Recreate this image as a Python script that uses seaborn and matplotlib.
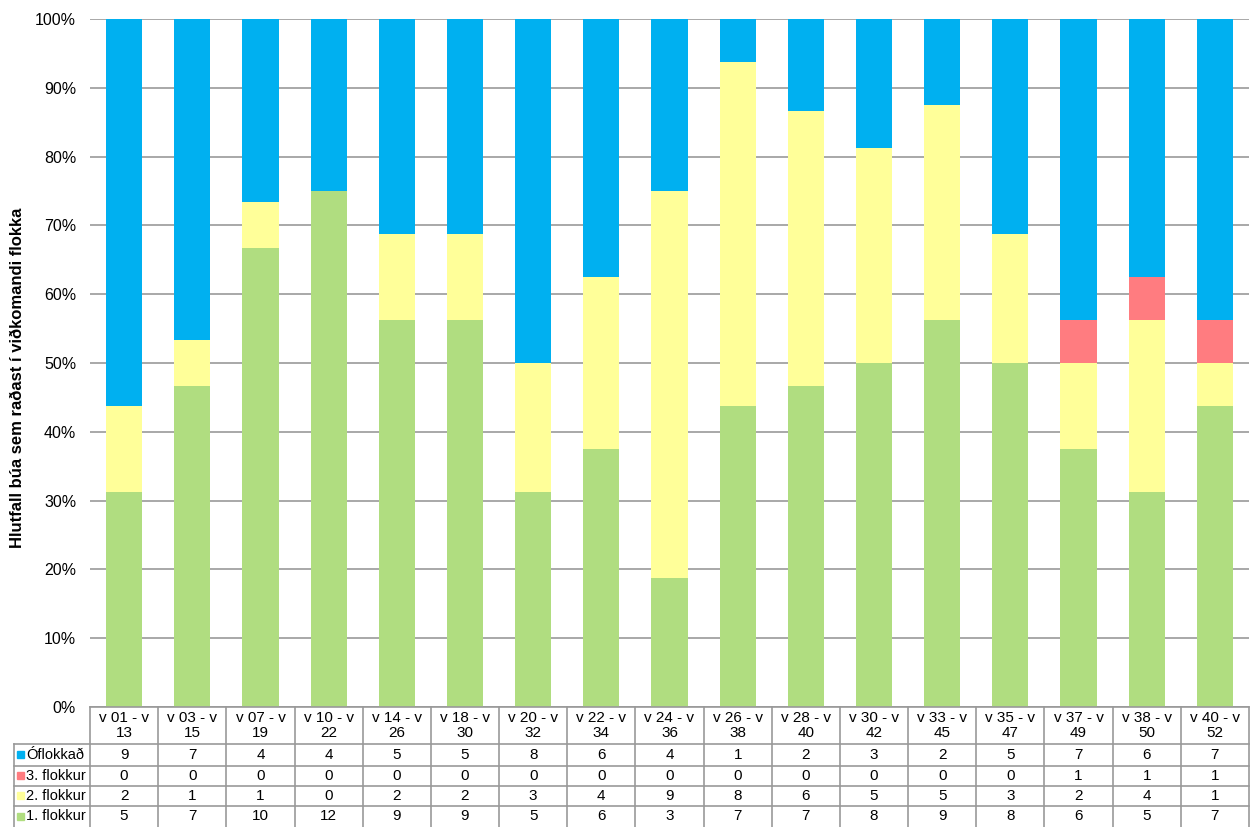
import numpy as np
import pandas as pd
import matplotlib
matplotlib.use("Agg")
import matplotlib.pyplot as plt
import seaborn as sb
from matplotlib.ticker import PercentFormatter

# Week ranges (table header) and counts per class
periods = ["v 01 - v\n13", "v 03 - v\n15", "v 07 - v\n19", "v 10 - v\n22", "v 14 - v\n26",
           "v 18 - v\n30", "v 20 - v\n32", "v 22 - v\n34", "v 24 - v\n36", "v 26 - v\n38",
           "v 28 - v\n40", "v 30 - v\n42", "v 33 - v\n45", "v 35 - v\n47", "v 37 - v\n49",
           "v 38 - v\n50", "v 40 - v\n52"]
oflokkad = [9, 7, 4, 4, 5, 5, 8, 6, 4, 1, 2, 3, 2, 5, 7, 6, 7]
flokkur3 = [0, 0, 0, 0, 0, 0, 0, 0, 0, 0, 0, 0, 0, 0, 1, 1, 1]
flokkur2 = [2, 1, 1, 0, 2, 2, 3, 4, 9, 8, 6, 5, 5, 3, 2, 4, 1]
flokkur1 = [5, 7, 10, 12, 9, 9, 5, 6, 3, 7, 7, 8, 9, 8, 6, 5, 7]

series_names = ["Óflokkað", "3. flokkur", "2. flokkur", "1. flokkur"]
colors = ["#00B0F0", "#FF7C80", "#FFFF99", "#B0DD80"]

W, H = 1250, 827
plt.rcParams['font.family'] = ['Liberation Sans', 'DejaVu Sans']

# Stacked shares: draw cumulative totals from the top layer down
df = pd.DataFrame({"period": periods, "Óflokkað": oflokkad, "3. flokkur": flokkur3,
                   "2. flokkur": flokkur2, "1. flokkur": flokkur1})
total = df[series_names].sum(axis=1)
cum = {
    "Óflokkað": (df["1. flokkur"] + df["2. flokkur"] + df["3. flokkur"] + df["Óflokkað"]) / total,
    "3. flokkur": (df["1. flokkur"] + df["2. flokkur"] + df["3. flokkur"]) / total,
    "2. flokkur": (df["1. flokkur"] + df["2. flokkur"]) / total,
    "1. flokkur": df["1. flokkur"] / total,
}

fig = plt.figure(figsize=(W / 100, H / 100), dpi=100)
x0, x1, ytop, ybot = 90, 1249, 19, 707
ax = fig.add_axes([x0 / W, (H - ybot) / H, (x1 - x0) / W, (ybot - ytop) / H])

for name, col in zip(series_names, colors):
    sb.barplot(x=df["period"], y=cum[name], color=col, saturation=1, width=0.53,
               ax=ax, zorder=2)

ax.set_ylim(0, 1)
ax.set_xlim(-0.5, len(periods) - 0.5)
ax.yaxis.set_major_locator(plt.MultipleLocator(0.1))
ax.yaxis.set_major_formatter(PercentFormatter(1.0, decimals=0))
ax.grid(axis='y', color='#999999', linewidth=1.2, zorder=0)
ax.set_axisbelow(True)
ax.tick_params(axis='y', length=0, pad=10, labelsize=11.5)
ax.set_xticks([])
ax.set_xlabel('')
ax.set_ylabel('')
for s in ['top', 'right', 'bottom', 'left']:
    ax.spines[s].set_visible(False)

fig.text(18 / W, (H - 378) / H, 'Hlutfall búa sem raðast í viðkomandi flokka',
         rotation=90, ha='center', va='center', fontsize=12, fontweight='bold')

# Data table under the chart, in pixel coordinates
tax = fig.add_axes([0, 0, 1, 1])
tax.set_xlim(0, W)
tax.set_ylim(H, 0)
tax.axis('off')
lc = '#999999'
cw = (x1 - x0) / len(periods)
rows = [707, 744, 766, 786, 806, 827]
left = 14

# horizontal lines
tax.plot([x0, x1], [rows[0], rows[0]], color=lc, lw=1.2)
for r in rows[1:-1]:
    tax.plot([left, x1], [r, r], color=lc, lw=1.2)
# vertical lines
tax.plot([left, left], [rows[1], H], color=lc, lw=1.2)
for i in range(len(periods) + 1):
    xv = x0 + i * cw
    tax.plot([xv, xv], [rows[0], H], color=lc, lw=1.2)

for i, p in enumerate(periods):
    xc = x0 + (i + 0.5) * cw
    top, bottom = p.split("\n")
    tax.text(xc, 718, top, ha='center', va='center', fontsize=11)
    tax.text(xc, 733, bottom, ha='center', va='center', fontsize=11)

values = [oflokkad, flokkur3, flokkur2, flokkur1]
for j, (name, col, vals) in enumerate(zip(series_names, colors, values)):
    yc = (rows[j + 1] + rows[j + 2]) / 2
    tax.add_patch(plt.Rectangle((17, yc - 4), 7, 7, color=col))
    tax.text(26, yc, name, ha='left', va='center', fontsize=10.5)
    for i, v in enumerate(vals):
        tax.text(x0 + (i + 0.5) * cw, yc, str(v), ha='center', va='center', fontsize=11)

fig.savefig('out.png', dpi=100)
